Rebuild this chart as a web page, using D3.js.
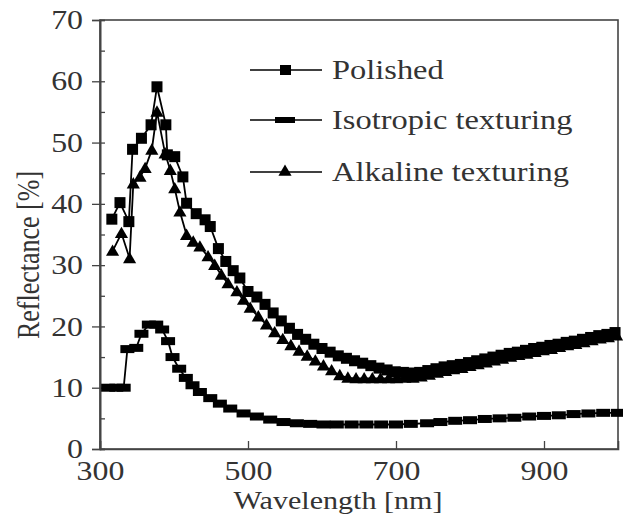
<!DOCTYPE html>
<html>
<head>
<meta charset="utf-8">
<script src="https://cdn.jsdelivr.net/npm/d3@7"></script>
<style>
  body { margin: 0; background: #fff; }
  text { font-family: "Liberation Serif", "Times New Roman", serif; fill: #333; }
</style>
</head>
<body>
<svg id="chart"></svg>
<script>
// series: [wavelength nm, reflectance %]
const polished = [
  [316, 37.5], [327, 40.2], [339, 37.1], [344, 48.9], [356, 50.7], [369, 52.9], [377, 59.1],
  [389, 52.9], [391, 48.0], [401, 47.7], [412, 44.4], [417, 40.1], [430, 38.4], [442, 37.4],
  [449, 36.3], [460, 32.7], [470, 30.6], [480, 29.1], [489, 27.9], [500, 25.7], [512, 24.8],
  [523, 23.6], [534, 22.2], [545, 20.9], [556, 19.7], [567, 18.7], [578, 17.9], [589, 17.1],
  [600, 16.4], [611, 15.8], [622, 15.2], [633, 14.8], [644, 14.4], [655, 14.0], [666, 13.6],
  [677, 13.2], [688, 12.9], [699, 12.6], [710, 12.5], [721, 12.4], [732, 12.5], [743, 12.8],
  [754, 13.1], [765, 13.4], [776, 13.6], [787, 13.8], [798, 14.1], [809, 14.4], [820, 14.7],
  [831, 15.0], [842, 15.3], [853, 15.6], [864, 15.8], [875, 16.1], [886, 16.4], [897, 16.6],
  [908, 16.9], [919, 17.1], [930, 17.4], [941, 17.6], [952, 17.9], [963, 18.2], [974, 18.5],
  [985, 18.7], [996, 19.0]
];
const isotropic = [
  [311, 10.0], [322, 10.0], [332, 10.0], [337, 16.3], [349, 16.5], [356, 18.8], [366, 20.3],
  [376, 20.3], [384, 19.5], [392, 17.6], [398, 15.0], [407, 13.1], [416, 11.6], [425, 10.4],
  [435, 9.3], [449, 8.3], [462, 7.4], [476, 6.6], [494, 5.8], [512, 5.3], [530, 4.8],
  [548, 4.4], [566, 4.2], [584, 4.1], [602, 4.0], [620, 4.0], [640, 4.0], [660, 4.0],
  [680, 4.0], [700, 4.0], [720, 4.1], [742, 4.2], [760, 4.4], [780, 4.6], [800, 4.7],
  [820, 4.9], [840, 5.0], [860, 5.1], [880, 5.3], [900, 5.4], [920, 5.5], [940, 5.7],
  [960, 5.8], [980, 5.9], [1000, 5.9]
];
const alkaline = [
  [317, 32.3], [329, 35.2], [340, 31.1], [345, 43.3], [354, 44.4], [361, 45.8], [370, 48.8],
  [377, 55.0], [388, 48.2], [395, 45.5], [401, 42.5], [408, 38.7], [417, 34.9], [426, 33.8],
  [435, 33.0], [446, 31.4], [455, 30.0], [464, 28.4], [473, 27.0], [485, 25.7], [494, 24.3],
  [503, 23.0], [514, 21.6], [525, 20.3], [536, 19.0], [547, 17.9], [558, 16.9], [569, 16.0],
  [580, 15.2], [591, 14.4], [602, 13.6], [613, 12.8], [624, 12.0], [635, 11.6], [646, 11.5],
  [657, 11.5], [668, 11.5], [679, 11.5], [690, 11.5], [701, 11.5], [712, 11.6], [723, 11.6],
  [734, 11.8], [745, 12.1], [756, 12.4], [767, 12.7], [778, 13.0], [789, 13.2], [800, 13.5],
  [811, 13.8], [822, 14.1], [833, 14.4], [844, 14.7], [855, 15.0], [866, 15.3], [877, 15.5],
  [888, 15.8], [899, 16.1], [910, 16.3], [921, 16.6], [932, 16.9], [943, 17.1], [954, 17.4],
  [965, 17.7], [976, 18.0], [987, 18.2], [998, 18.5]
];

const xTicks = [300, 500, 700, 900];
const yTicks = [0, 10, 20, 30, 40, 50, 60, 70];
const yMinor = [5, 15, 25, 35, 45, 55, 65];
const legendNames = ['Polished', 'Isotropic texturing', 'Alkaline texturing'];

const width = 623, height = 528;
const sx = 1.18; // the picture is stretched sideways, text too

const svg = d3.select('#chart')
  .attr('width', width)
  .attr('height', height);

const x = d3.scaleLinear().domain([300, 1000]).range([100, 618]);
const y = d3.scaleLinear().domain([0, 70]).range([449, 20]);

// frame
svg.append('rect')
  .attr('x', x(300)).attr('y', y(70))
  .attr('width', x(1000) - x(300)).attr('height', y(0) - y(70))
  .attr('fill', 'none').attr('stroke', '#444').attr('stroke-width', 1.6);

// y axis: major ticks cross the line, minor ticks inside only
let gy = svg.append('g')
  .attr('transform', `translate(${x(300)},0)`)
  .call(d3.axisLeft(y).tickValues(yTicks).tickSize(8).tickPadding(9));
gy.selectAll('text')
  .attr('font-size', 27)
  .attr('x', function () { return +this.getAttribute('x') / sx; })
  .attr('transform', `scale(${sx},1)`);
svg.append('g')
  .attr('transform', `translate(${x(300)},0)`)
  .call(d3.axisLeft(y).tickValues(yTicks.concat(yMinor)).tickSize(-5).tickFormat(''));

// x axis, ticks inside
let gx = svg.append('g')
  .attr('transform', `translate(0,${y(0)})`)
  .call(d3.axisBottom(x).tickValues(xTicks).tickSize(-8).tickPadding(12));
gx.selectAll('text')
  .attr('font-size', 27)
  .attr('transform', `scale(${sx},1)`);

svg.selectAll('.domain').attr('stroke', '#444').attr('stroke-width', 1.6);
svg.selectAll('.tick line').attr('stroke', '#444').attr('stroke-width', 1.3);
svg.selectAll('.tick text').attr('fill', '#3a3a3a');

// axis titles
svg.append('text')
  .attr('transform', `translate(338,509) scale(${sx},1)`)
  .attr('text-anchor', 'middle')
  .attr('font-size', 25.5)
  .text('Wavelength [nm]');
svg.append('text')
  .attr('transform', `translate(39,255) rotate(-90) scale(1,${sx})`)
  .attr('text-anchor', 'middle')
  .attr('font-size', 26)
  .text('Reflectance [%]');

const line = d3.line().x(d => x(d[0])).y(d => y(d[1]));
const tri = d3.symbol().type(d3.symbolTriangle).size(75);

const plot = svg.append('g');

function drawSeries(data, marker) {
  plot.append('path')
    .datum(data)
    .attr('fill', 'none')
    .attr('stroke', '#000')
    .attr('stroke-width', 1.8)
    .attr('d', line);
  const g = plot.append('g');
  if (marker === 'square') {
    g.selectAll('rect').data(data).enter().append('rect')
      .attr('x', d => x(d[0]) - 5.5).attr('y', d => y(d[1]) - 5.5)
      .attr('width', 11).attr('height', 11).attr('fill', '#000');
  } else if (marker === 'dash') {
    g.selectAll('rect').data(data).enter().append('rect')
      .attr('x', d => x(d[0]) - 7).attr('y', d => y(d[1]) - 4)
      .attr('width', 14).attr('height', 8).attr('fill', '#000');
  } else {
    g.selectAll('path').data(data).enter().append('path')
      .attr('d', tri)
      .attr('transform', d => `translate(${x(d[0])},${y(d[1]) + 1})`)
      .attr('fill', '#000');
  }
}

drawSeries(isotropic, 'dash');
drawSeries(alkaline, 'triangle');
drawSeries(polished, 'square');

// legend
const legendY = [70, 120, 172];
const markers = ['square', 'dash', 'triangle'];
const legend = svg.append('g');
legendNames.forEach((name, i) => {
  const ly = legendY[i];
  legend.append('line')
    .attr('x1', 250).attr('x2', 322).attr('y1', ly).attr('y2', ly)
    .attr('stroke', '#000').attr('stroke-width', 1.6);
  if (markers[i] === 'square') {
    legend.append('rect').attr('x', 280).attr('y', ly - 5).attr('width', 11).attr('height', 10).attr('fill', '#000');
  } else if (markers[i] === 'dash') {
    legend.append('rect').attr('x', 275).attr('y', ly - 3).attr('width', 20).attr('height', 6).attr('fill', '#000');
  } else {
    legend.append('path').attr('d', tri).attr('transform', `translate(285,${ly})`).attr('fill', '#000');
  }
  legend.append('text')
    .attr('transform', `translate(332,${ly + 9}) scale(${sx},1)`)
    .attr('font-size', 27.5)
    .text(name);
});
</script>
</body>
</html>
